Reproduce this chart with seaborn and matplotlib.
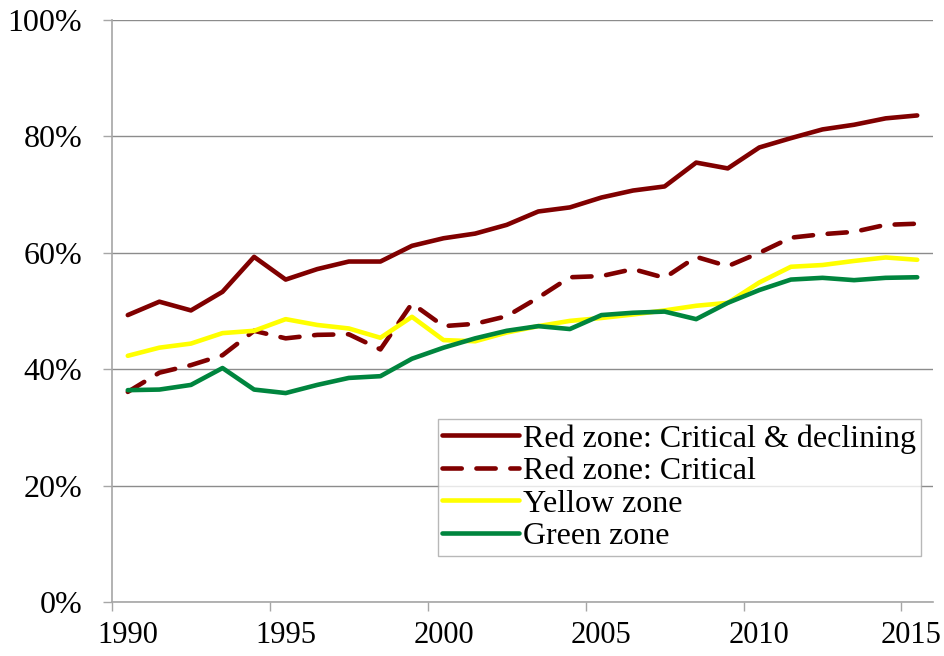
import pandas as pd
import matplotlib.pyplot as plt
import matplotlib.ticker as mticker
import seaborn as sns

# Mid-year positions of each observation (1990..2015)
years = [y + 0.5 for y in range(1990, 2016)]

red_declining = [49.3, 51.6, 50.1, 53.3, 59.3, 55.4, 57.2, 58.5, 58.5, 61.2,
                 62.5, 63.3, 64.8, 67.1, 67.8, 69.5, 70.7, 71.4, 75.5, 74.5,
                 78.1, 79.7, 81.2, 82.0, 83.1, 83.6]
red_critical = [36.1, 39.4, 40.7, 42.4, 46.6, 45.3, 45.9, 46.0, 43.4, 51.3,
                47.4, 47.8, 49.1, 52.3, 55.8, 56.0, 57.2, 55.7, 59.3, 57.7,
                60.0, 62.6, 63.2, 63.6, 64.8, 65.0]
yellow = [42.3, 43.7, 44.4, 46.2, 46.6, 48.6, 47.6, 47.0, 45.4, 49.0,
          45.0, 44.8, 46.3, 47.4, 48.3, 48.8, 49.4, 50.1, 50.9, 51.4,
          54.9, 57.6, 57.9, 58.6, 59.2, 58.8]
green = [36.4, 36.5, 37.3, 40.2, 36.5, 35.9, 37.3, 38.5, 38.8, 41.8,
         43.7, 45.3, 46.6, 47.4, 46.9, 49.3, 49.7, 49.9, 48.6, 51.4,
         53.6, 55.4, 55.7, 55.3, 55.7, 55.8]

labels = ["Red zone: Critical & declining", "Red zone: Critical",
          "Yellow zone", "Green zone"]
series = [red_declining, red_critical, yellow, green]
tick_years = [1990, 1995, 2000, 2005, 2010, 2015]

df = pd.concat([pd.DataFrame({"year": years, "share": [v / 100 for v in s], "zone": lab})
                for lab, s in zip(labels, series)])

palette = dict(zip(labels, ["#800000", "#800000", "#FFFF00", "#00853E"]))
dashes = dict(zip(labels, ["", (4.2, 3.2), "", ""]))

sns.set_style("white")
plt.rcParams["font.family"] = ["Liberation Serif", "DejaVu Serif"]
plt.rcParams["text.color"] = "black"
plt.rcParams["xtick.labelcolor"] = "black"
plt.rcParams["ytick.labelcolor"] = "black"

fig, ax = plt.subplots(figsize=(9.45, 6.56), dpi=100)
fig.subplots_adjust(left=112 / 945, right=933 / 945, top=1 - 20 / 656, bottom=1 - 602 / 656)

sns.lineplot(data=df, x="year", y="share", hue="zone", style="zone",
             palette=palette, dashes=dashes, linewidth=3.3, ax=ax,
             dash_capstyle="round", solid_capstyle="round")

ax.set_xlim(1990, 2016)
ax.set_ylim(0, 1)
# tick marks at the year boundaries, labels centred about half a year later
# (the last one pulled in a little so it stays inside the figure)
label_pos = [y + 0.5 for y in tick_years[:-1]] + [tick_years[-1] + 0.3]
ax.set_xticks(tick_years)
ax.set_xticklabels([])
ax.set_xticks(label_pos, minor=True)
ax.set_xticklabels([str(y) for y in tick_years], minor=True)
ax.set_yticks([0, 0.2, 0.4, 0.6, 0.8, 1.0])
ax.yaxis.set_major_formatter(mticker.PercentFormatter(1.0, decimals=0))
ax.set_xlabel("")
ax.set_ylabel("")

ax.grid(axis="y", color="#8c8c8c", linewidth=1)
ax.set_axisbelow(True)
for side in ["top", "right"]:
    ax.spines[side].set_visible(False)
for side in ["left", "bottom"]:
    ax.spines[side].set_color("#a6a6a6")
    ax.spines[side].set_linewidth(1.2)
ax.tick_params(axis="both", which="major", direction="out", length=6.5, width=1,
               color="#a6a6a6", labelsize=23, labelcolor="black", bottom=True, left=True)
ax.tick_params(axis="y", which="major", pad=15)
ax.tick_params(axis="x", which="minor", length=0, pad=14, labelsize=22,
               labelcolor="black", bottom=True)

leg = ax.legend(loc="lower right", bbox_to_anchor=(0.985, 0.079), fontsize=23,
                frameon=True, fancybox=False, edgecolor="#a6a6a6",
                handlelength=2.4, handletextpad=0.12, labelspacing=0.1,
                borderpad=0.15, borderaxespad=0, title=None)
leg.get_frame().set_linewidth(1)
for line in leg.get_lines():
    line.set_linewidth(3.3)
for text in leg.get_texts():
    text.set_color("black")

fig.savefig("out.png", dpi=100)
